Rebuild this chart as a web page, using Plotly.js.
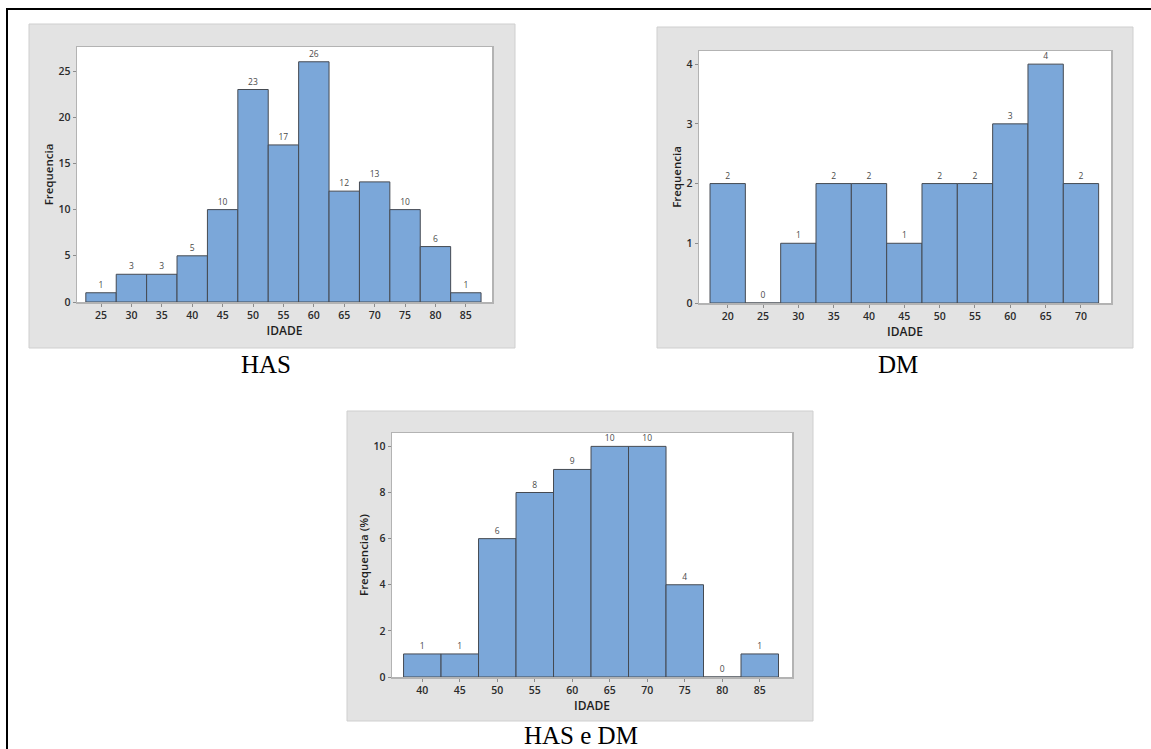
<!DOCTYPE html>
<html>
<head>
<meta charset="utf-8">
<script src="https://cdn.plot.ly/plotly-3.0.1.min.js"></script>
<style>
  html, body { margin: 0; padding: 0; background: #ffffff; }
  #chart { width: 1151px; height: 749px; }
</style>
</head>
<body>
<div id="chart"></div>
<script>
// ---- data ----
const hasAges = [25, 30, 35, 40, 45, 50, 55, 60, 65, 70, 75, 80, 85];
const hasCounts = [1, 3, 3, 5, 10, 23, 17, 26, 12, 13, 10, 6, 1];

const dmAges = [20, 25, 30, 35, 40, 45, 50, 55, 60, 65, 70];
const dmCounts = [2, 0, 1, 2, 2, 1, 2, 2, 3, 4, 2];

const bothAges = [40, 45, 50, 55, 60, 65, 70, 75, 80, 85];
const bothCounts = [1, 1, 6, 8, 9, 10, 10, 4, 0, 1];

const captions = ["HAS", "DM", "HAS e DM"];
const xTitle = "IDADE";
const yTitles = ["Frequencia", "Frequencia", "Frequencia (%)"];
const binWidth = 5;

// ---- helpers ----
const W = 1151, H = 749;
const px = v => v / W;
const py = v => (H - v) / H;

const barColor = '#7BA7D9';
const barLine = '#454a52';
const uiFont = 'Open Sans, Noto Sans, sans-serif';

function barTrace(x, y, xa, ya) {
  return {
    type: 'bar', x: x, y: y, xaxis: xa, yaxis: ya,
    width: binWidth,
    marker: { color: barColor, line: { color: barLine, width: 1 } },
    text: y.map(String), textposition: 'outside',
    textfont: { family: uiFont, size: 8.5, color: '#4a4a4a' },
    cliponaxis: false, hoverinfo: 'x+y', showlegend: false
  };
}

const data = [
  barTrace(hasAges, hasCounts, 'x', 'y'),
  barTrace(dmAges, dmCounts, 'x2', 'y2'),
  barTrace(bothAges, bothCounts, 'x3', 'y3')
];

function xAxis(domain, range, vals, anchor) {
  return {
    domain: domain, range: range, anchor: anchor,
    tickvals: vals, ticktext: vals.map(String),
    ticks: 'outside', ticklen: 3, tickcolor: '#8c8c8c', tickwidth: 1,
    showline: true, mirror: true, linecolor: '#b3b3b3', linewidth: 1.5,
    showgrid: false, zeroline: false, fixedrange: true,
    tickfont: { family: uiFont, size: 10.5, color: '#2b2b2b', weight: 600 },
    title: { text: xTitle, standoff: 3, font: { family: uiFont, size: 12, color: '#1e1e1e', weight: 600 } }
  };
}
function yAxis(domain, range, dtick, anchor, title, standoff) {
  return {
    domain: domain, range: range, anchor: anchor,
    tick0: 0, dtick: dtick,
    ticks: 'outside', ticklen: 3, tickcolor: '#8c8c8c', tickwidth: 1,
    showline: true, mirror: true, linecolor: '#b3b3b3', linewidth: 1.5,
    showgrid: false, zeroline: false, fixedrange: true,
    tickfont: { family: uiFont, size: 10.5, color: '#2b2b2b', weight: 600 },
    title: { text: title, standoff: standoff, font: { family: uiFont, size: 11.5, color: '#1e1e1e', weight: 600 } }
  };
}

const panels = [
  { box: [29, 24, 515, 348], plot: [77, 47, 492, 302] },
  { box: [657, 27, 1133, 348], plot: [699, 51, 1111, 303] },
  { box: [347, 411, 813, 721], plot: [392, 433, 792, 677] }
];

const shapes = [];
panels.forEach(p => {
  shapes.push({ type: 'rect', xref: 'paper', yref: 'paper', layer: 'below',
    x0: px(p.box[0]), x1: px(p.box[2]), y0: py(p.box[3]), y1: py(p.box[1]),
    fillcolor: '#e3e3e3', line: { color: '#cfcfcf', width: 1 } });
  shapes.push({ type: 'rect', xref: 'paper', yref: 'paper', layer: 'below',
    x0: px(p.plot[0]), x1: px(p.plot[2]), y0: py(p.plot[3]), y1: py(p.plot[1]),
    fillcolor: '#ffffff', line: { width: 0 } });
});
// black page frame (left and top)
shapes.push({ type: 'line', xref: 'paper', yref: 'paper', x0: px(7), x1: px(7), y0: 0, y1: py(8),
  line: { color: '#000000', width: 2 } });
shapes.push({ type: 'line', xref: 'paper', yref: 'paper', x0: px(6), x1: 1, y0: py(9), y1: py(9),
  line: { color: '#000000', width: 2 } });

const capPos = [[266, 365], [898, 364], [580.5, 735]];
const annotations = captions.map((c, i) => ({
  text: c, xref: 'paper', yref: 'paper', x: px(capPos[i][0]), y: py(capPos[i][1]),
  xanchor: 'center', yanchor: 'middle', showarrow: false,
  font: { family: 'Liberation Serif, Times New Roman, serif', size: 25, color: '#000000' }
}));

const layout = {
  width: W, height: H,
  margin: { l: 0, r: 0, t: 0, b: 0, pad: 0 },
  paper_bgcolor: '#ffffff', plot_bgcolor: 'rgba(0,0,0,0)',
  bargap: 0, showlegend: false,
  xaxis: xAxis([px(77), px(492)], [21.05, 89.3], hasAges, 'y'),
  yaxis: yAxis([py(302), py(47)], [0, 27.6], 5, 'x', yTitles[0], 2),
  xaxis2: xAxis([px(699), px(1111)], [15.94, 74.25], dmAges, 'y2'),
  yaxis2: yAxis([py(303), py(51)], [0, 4.22], 1, 'x2', yTitles[1], 2),
  xaxis3: xAxis([px(392), px(792)], [35.96, 89.3], bothAges, 'y3'),
  yaxis3: yAxis([py(677), py(433)], [0, 10.58], 2, 'x3', yTitles[2], 2),
  shapes: shapes,
  annotations: annotations
};

Plotly.newPlot('chart', data, layout, { displayModeBar: false, staticPlot: true });
</script>
</body>
</html>
